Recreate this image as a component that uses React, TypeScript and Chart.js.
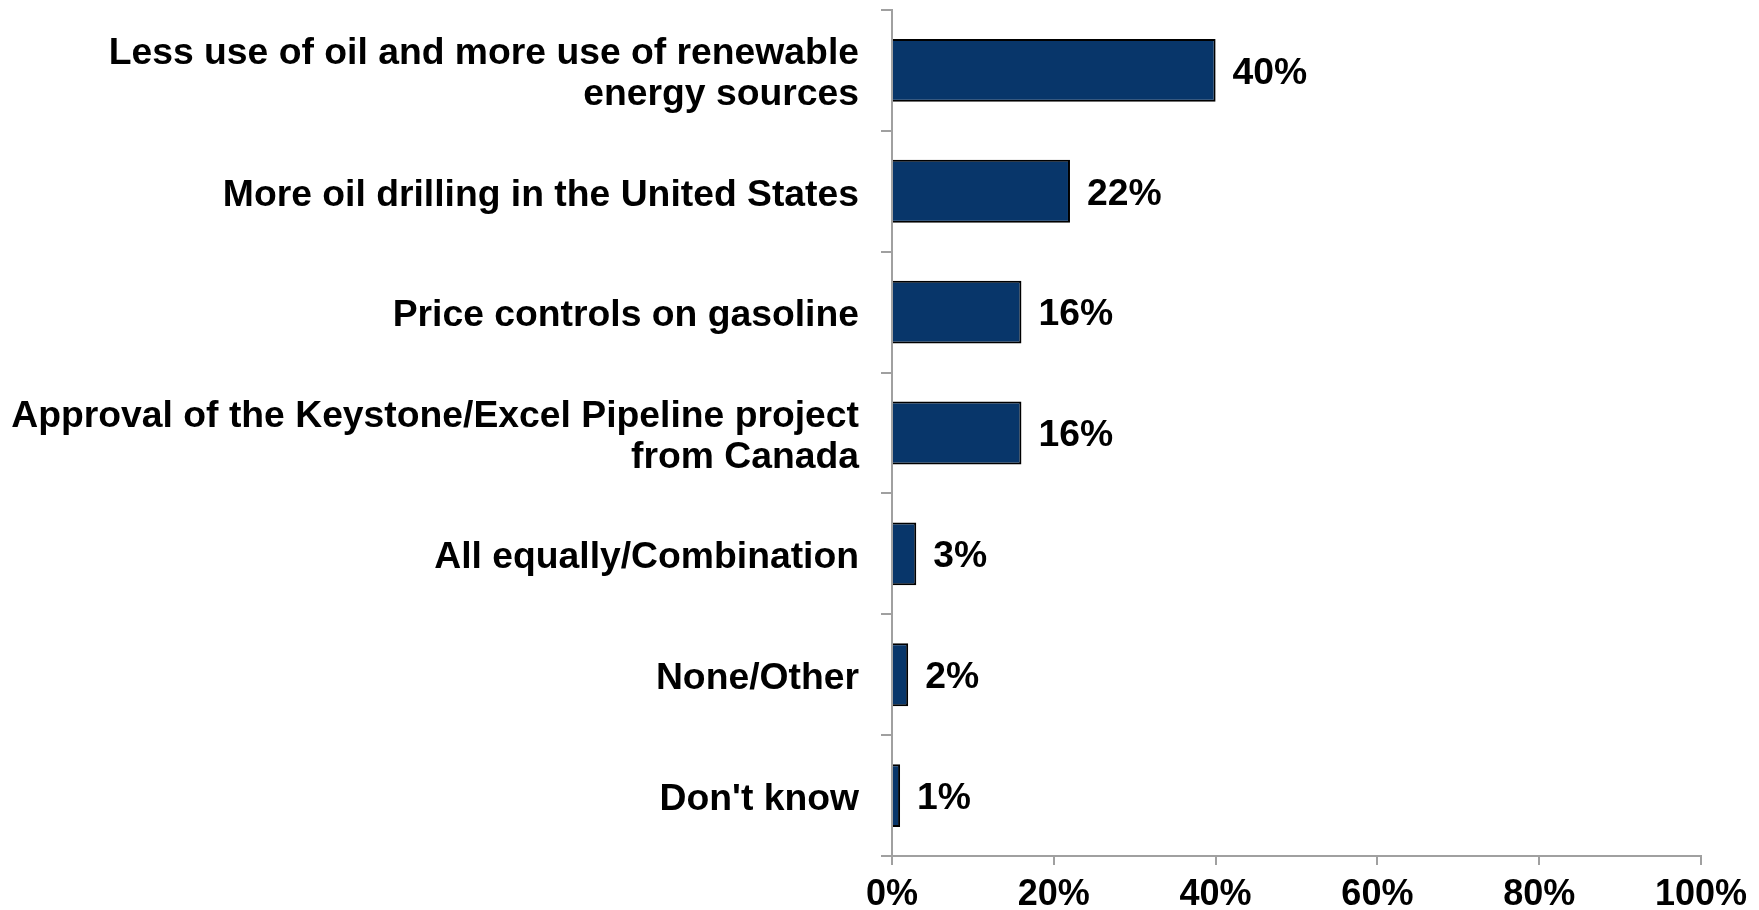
import React, { useEffect, useRef } from "react";
import { Chart, registerables } from "chart.js";

Chart.register(...registerables);

const categories: (string | string[])[] = [
  ["Less use of oil and more use of renewable", "energy sources"],
  "More oil drilling in the United States",
  "Price controls on gasoline",
  ["Approval of the Keystone/Excel Pipeline project", "from Canada"],
  "All equally/Combination",
  "None/Other",
  "Don't know",
];
const values: number[] = [40, 22, 16, 16, 3, 2, 1];
const xTicks: number[] = [0, 20, 40, 60, 80, 100];

const FONT = "'Liberation Sans', Arial, Helvetica, sans-serif";
const SIZE = 37.3;

const valueLabels = {
  id: "valueLabels",
  afterDatasetsDraw(chart: any) {
    const ctx = chart.ctx;
    const meta = chart.getDatasetMeta(0);
    ctx.save();
    ctx.font = `bold ${SIZE}px ${FONT}`;
    ctx.fillStyle = "#000";
    ctx.textAlign = "left";
    ctx.textBaseline = "middle";
    meta.data.forEach((bar: any, i: number) => {
      ctx.fillText(values[i] + "%", bar.x + 17, bar.y + 3);
    });
    ctx.restore();
  },
};

export default function App() {
  const ref = useRef<HTMLCanvasElement>(null);
  useEffect(() => {
    if (!ref.current) return;
    const chart = new Chart(ref.current, {
      type: "bar",
      data: {
        labels: categories,
        datasets: [
          {
            data: values,
            backgroundColor: "#08366A",
            borderColor: "#000000",
            borderWidth: 2,
            categoryPercentage: 1,
            barPercentage: 0.52,
          },
        ],
      },
      options: {
        indexAxis: "y",
        animation: false,
        responsive: false,
        maintainAspectRatio: false,
        layout: { padding: { top: 10, right: 58, left: 0, bottom: 0 } },
        plugins: { legend: { display: false }, tooltip: { enabled: false } },
        scales: {
          x: {
            min: 0,
            max: 100,
            afterBuildTicks(axis: any) {
              axis.ticks = xTicks.map((v) => ({ value: v }));
            },
            afterFit(axis: any) {
              axis.height = 54;
            },
            border: { display: true, color: "#a0a0a0", width: 2 },
            grid: {
              display: true,
              drawOnChartArea: false,
              drawTicks: true,
              tickLength: 9,
              color: "#a0a0a0",
              lineWidth: 2,
            },
            ticks: {
              color: "#000",
              font: { family: FONT, size: 36, weight: "bold" },
              padding: 8,
              maxRotation: 0,
              callback: (v: any) => v + "%",
            },
          },
          y: {
            afterFit(axis: any) {
              axis.width = 892;
              axis.paddingTop = 0;
              axis.paddingBottom = 0;
            },
            border: { display: true, color: "#a0a0a0", width: 2 },
            grid: {
              display: true,
              offset: true,
              drawOnChartArea: false,
              drawTicks: true,
              tickLength: 11,
              color: "#a0a0a0",
              lineWidth: 2,
            },
            ticks: {
              color: "#000",
              font: { family: FONT, size: SIZE, weight: "bold", lineHeight: 1.1 },
              padding: 22,
              labelOffset: 4,
              autoSkip: false,
            },
          },
        },
      },
      plugins: [valueLabels],
    } as any);
    return () => chart.destroy();
  }, []);
  return (
    <div style={{ position: "fixed", left: 0, top: 0, width: 1759, height: 910, background: "#fff" }}>
      <canvas ref={ref} width={1759} height={910} style={{ width: 1759, height: 910, display: "block" }} />
    </div>
  );
}
